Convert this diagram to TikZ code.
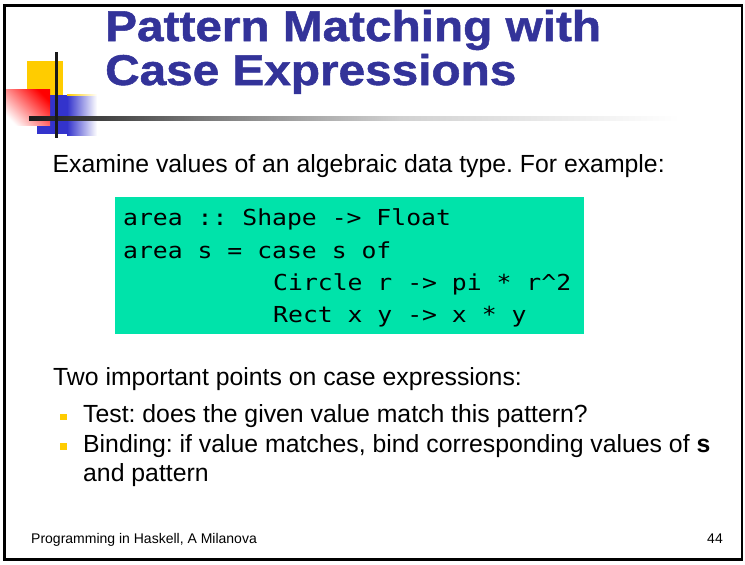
\documentclass[tikz,border=0pt]{standalone}
\usepackage{fontspec}
\setmainfont{Liberation Sans}
\newfontfamily\titlefont[FakeStretch=1.11,FakeBold=1.2]{Liberation Sans}
\newfontfamily\codefont[FakeStretch=1.125]{DejaVu Sans Mono}
\usepackage{xcolor}
\usepackage{tikz}
\usetikzlibrary{positioning}
\definecolor{titleblue}{HTML}{333399}
\definecolor{codegreen}{HTML}{00E3AA}
\definecolor{logoyellow}{HTML}{FFCC00}
\definecolor{logoblue}{HTML}{3333CC}
\frenchspacing

\tikzset{
  slidetext/.style={anchor=base west,inner sep=0pt,font=\fontsize{24.8}{28}\selectfont},
  codeline/.style={anchor=base west,inner sep=0pt,font=\codefont\fontsize{22}{26}\selectfont},
  titleline/.style={anchor=base west,inner sep=0pt,text=titleblue,font=\titlefont\bfseries\fontsize{43}{44}\selectfont},
  bulletsq/.style={fill=logoyellow,inner sep=0pt,minimum size=6.5pt},
}

\begin{document}
\begin{tikzpicture}[x=1pt,y=-1pt]
\useasboundingbox (0,0) rectangle (745,565);
% logo blocks in the top left corner
\fill[logoyellow] (27,61) rectangle (63,97);
\shade[left color=logoyellow,right color=white] (67,94) rectangle (97,96.5);
\fill[logoblue] (37,95) rectangle (67,134);
\shade[left color=logoblue,right color=white] (67,96) rectangle (97,135);
\shade[top color=red,bottom color=white,shading angle=-45] (3,89) rectangle (50,125);
% rule under the title, fading out
\shade[left color=black!90,right color=black!53] (29,116) rectangle (200,120);
\shade[left color=black!53,right color=black!18] (200,116) rectangle (400,120);
\shade[left color=black!18,right color=white] (400,116) rectangle (680,120);
\fill[black!90] (55,52) rectangle (58,138);

\node[titleline] (title1) at (105,41) {Pattern Matching with};
\node[titleline] (title2) at (105,85) {Case Expressions};

\node[slidetext] (intro) at (52.5,172) {Examine values of an algebraic data type. For example:};

% code box
\node[fill=codegreen,inner sep=0pt,minimum width=469pt,minimum height=137pt,anchor=north west] (codebox) at (115,197) {};
\foreach \n/\cx/\cy/\src in {1/123/225/{area :: Shape -> Float},
                             2/123/258/{area s = case s of},
                             3/273/290/{Circle r -> pi * r\textasciicircum2},
                             4/273/322/{Rect x y -> x * y}}{
  \node[codeline] (code\n) at (\cx,\cy) {\src};
}

\node[slidetext] (points) at (53,385) {Two important points on case expressions:};
\node[bulletsq] (bullet1) at (63.5,417) {};
\node[slidetext] (test) at (83,422) {Test: does the given value match this pattern?};
\node[bulletsq] (bullet2) at (63.5,446.5) {};
\node[slidetext] (binding) at (83,452) {Binding: if value matches, bind corresponding values of \textbf{s}};
\node[slidetext] (binding2) at (83,481) {and pattern};

\node[anchor=base west,inner sep=0pt,font=\fontsize{14}{16}\selectfont] (footer) at (31,543) {Programming in Haskell, A Milanova};
\node[anchor=base east,inner sep=0pt,font=\fontsize{14}{16}\selectfont] (pagenum) at (723,543) {44};

% slide frame
\draw[line width=2.5pt] (4.5,5.5) rectangle (742,559.5);
\end{tikzpicture}
\end{document}
